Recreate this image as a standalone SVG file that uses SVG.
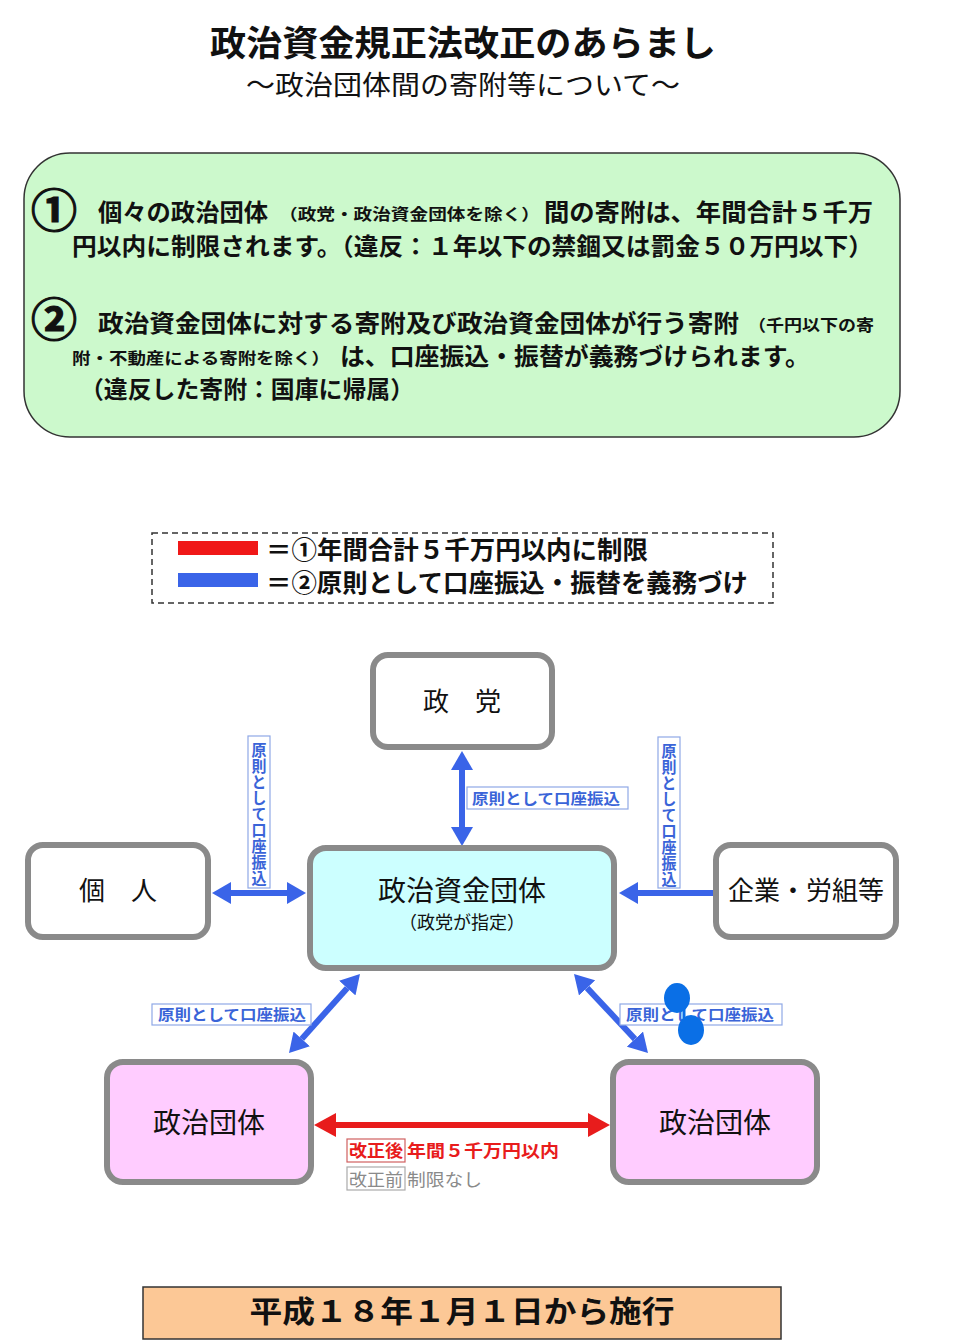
<svg xmlns="http://www.w3.org/2000/svg" width="959" height="1340" viewBox="0 0 959 1340">
<style>
text{font-family:"Noto Sans CJK JP","Noto Sans CJK SC",sans-serif;fill:#111}
.b{font-weight:bold}
.node{fill:#fff;stroke:#8a8a8a;stroke-width:6}
.nt{font-size:26px;text-anchor:middle}
.blue{stroke:#3a64e8;stroke-width:6;fill:none}
.red{stroke:#e81c1c;stroke-width:6;fill:none}
.lbl{fill:#fff;stroke:#8fa8e6;stroke-width:1.2}
.lt{font-size:15px;font-weight:bold;fill:#3a64d8}
</style>
<defs>
<marker id="ab" markerUnits="userSpaceOnUse" markerWidth="19" markerHeight="22" refX="0" refY="11" orient="auto-start-reverse" viewBox="0 0 19 22"><path d="M0,0 L19,11 L0,22 z" fill="#3a64e8"/></marker>
<marker id="ar" markerUnits="userSpaceOnUse" markerWidth="22" markerHeight="24" refX="0" refY="12" orient="auto-start-reverse" viewBox="0 0 22 24"><path d="M0,0 L22,12 L0,24 z" fill="#e81c1c"/></marker>
</defs>
<rect width="959" height="1340" fill="#fff"/>
<g id="title">
<text x="463" y="56" class="b" font-size="35" text-anchor="middle" textLength="506" lengthAdjust="spacingAndGlyphs">政治資金規正法改正のあらまし</text>
<text x="463" y="95" font-size="27" text-anchor="middle" textLength="434" lengthAdjust="spacingAndGlyphs">～政治団体間の寄附等について～</text>
</g>
<g id="summary">
<rect x="24" y="153" width="876" height="284" rx="46" fill="#ccf9cc" stroke="#333" stroke-width="1.5"/>
<text x="54" y="227" class="b" font-size="46" text-anchor="middle" stroke="#111" stroke-width="1.2">①</text>
<text x="98" y="221" class="b" font-size="24" textLength="170" lengthAdjust="spacingAndGlyphs">個々の政治団体</text>
<text x="279" y="220" class="b" font-size="16" textLength="261" lengthAdjust="spacingAndGlyphs">（政党・政治資金団体を除く）</text>
<text x="544" y="221" class="b" font-size="24" textLength="329" lengthAdjust="spacingAndGlyphs">間の寄附は、年間合計５千万</text>
<text x="72" y="255" class="b" font-size="24" textLength="801" lengthAdjust="spacingAndGlyphs">円以内に制限されます。（違反：１年以下の禁錮又は罰金５０万円以下）</text>
<text x="54" y="336" class="b" font-size="46" text-anchor="middle" stroke="#111" stroke-width="1.2">②</text>
<text x="98" y="332" class="b" font-size="24" textLength="641" lengthAdjust="spacingAndGlyphs">政治資金団体に対する寄附及び政治資金団体が行う寄附</text>
<text x="748" y="331" class="b" font-size="16" textLength="126" lengthAdjust="spacingAndGlyphs">（千円以下の寄</text>
<text x="72" y="364" class="b" font-size="16" textLength="258" lengthAdjust="spacingAndGlyphs">附・不動産による寄附を除く）</text>
<text x="340" y="365" class="b" font-size="24" textLength="470" lengthAdjust="spacingAndGlyphs">は、口座振込・振替が義務づけられます。</text>
<text x="80" y="398" class="b" font-size="24" textLength="334" lengthAdjust="spacingAndGlyphs">（違反した寄附：国庫に帰属）</text>
</g>
<g id="legend">
<rect x="152" y="533" width="621" height="70" fill="none" stroke="#333" stroke-width="1.5" stroke-dasharray="6,4"/>
<rect x="178" y="541" width="80" height="14" fill="#f01818"/>
<rect x="178" y="573" width="80" height="14" fill="#3a64e8"/>
<text x="266" y="559" class="b" font-size="25" textLength="382" lengthAdjust="spacingAndGlyphs">＝①年間合計５千万円以内に制限</text>
<text x="266" y="592" class="b" font-size="25" textLength="482" lengthAdjust="spacingAndGlyphs">＝②原則として口座振込・振替を義務づけ</text>
</g>
<g id="connectors">
<line class="blue" x1="462" y1="770" x2="462" y2="827" marker-start="url(#ab)" marker-end="url(#ab)"/>
<line class="blue" x1="231" y1="893" x2="287" y2="893" marker-start="url(#ab)" marker-end="url(#ab)"/>
<line class="blue" x1="714" y1="893" x2="638" y2="893" marker-end="url(#ab)"/>
<line class="blue" x1="347.3" y1="988.1" x2="301.7" y2="1038.9" marker-start="url(#ab)" marker-end="url(#ab)"/>
<line class="blue" x1="587" y1="987.9" x2="635" y2="1039.1" marker-start="url(#ab)" marker-end="url(#ab)"/>
<line class="red" x1="336" y1="1125" x2="588" y2="1125" marker-start="url(#ar)" marker-end="url(#ar)"/>
<rect class="lbl" x="467" y="787" width="161" height="22"/>
<text class="lt" x="472" y="804" textLength="148" lengthAdjust="spacingAndGlyphs">原則として口座振込</text>
<rect class="lbl" x="248" y="736" width="22" height="152"/>
<text class="lt" x="259" y="742" style="writing-mode:vertical-rl" textLength="144" lengthAdjust="spacingAndGlyphs">原則として口座振込</text>
<rect class="lbl" x="658" y="737" width="22" height="151"/>
<text class="lt" x="669" y="743" style="writing-mode:vertical-rl" textLength="144" lengthAdjust="spacingAndGlyphs">原則として口座振込</text>
<rect class="lbl" x="152" y="1004" width="159" height="21"/>
<text class="lt" x="158" y="1020" textLength="148" lengthAdjust="spacingAndGlyphs">原則として口座振込</text>
<rect class="lbl" x="620" y="1004" width="162" height="21"/>
<text class="lt" x="626" y="1020" textLength="148" lengthAdjust="spacingAndGlyphs">原則として口座振込</text>
<rect x="347" y="1139" width="58" height="23" fill="#fff" stroke="#d06060" stroke-width="1.2"/>
<text x="349" y="1157" class="b" font-size="17" style="fill:#e81c1c" textLength="54" lengthAdjust="spacingAndGlyphs">改正後</text>
<text x="407" y="1157" class="b" font-size="17" style="fill:#e81c1c" textLength="152" lengthAdjust="spacingAndGlyphs">年間５千万円以内</text>
<rect x="347" y="1167" width="58" height="23" fill="#fff" stroke="#aaa" stroke-width="1.2"/>
<text x="349" y="1186" font-size="17" style="fill:#8a8a8a" textLength="54" lengthAdjust="spacingAndGlyphs">改正前</text>
<text x="407" y="1186" font-size="17" style="fill:#8a8a8a" textLength="75" lengthAdjust="spacingAndGlyphs">制限なし</text>
</g>
<g id="n-seito">
<rect class="node" x="373" y="655" width="179" height="92" rx="15"/>
<text class="nt" x="462" y="711">政　党</text>
</g>
<g id="n-kojin">
<rect class="node" x="28" y="845" width="180" height="92" rx="15"/>
<text class="nt" x="118" y="900">個　人</text>
</g>
<g id="n-kigyo">
<rect class="node" x="716" y="845" width="180" height="92" rx="15"/>
<text class="nt" x="806" y="900">企業・労組等</text>
</g>
<g id="n-shikin">
<rect class="node" x="310" y="848" width="304" height="120" rx="16" style="fill:#ccffff"/>
<text x="462" y="901" font-size="28" text-anchor="middle">政治資金団体</text>
<text x="462" y="929" font-size="18" text-anchor="middle">（政党が指定）</text>
</g>
<g id="n-dantai-l">
<rect class="node" x="107" y="1062" width="204" height="120" rx="16" style="fill:#ffccff"/>
<text x="209" y="1133" font-size="28" text-anchor="middle">政治団体</text>
</g>
<g id="n-dantai-r">
<rect class="node" x="613" y="1062" width="204" height="120" rx="16" style="fill:#ffccff"/>
<text x="715" y="1133" font-size="28" text-anchor="middle">政治団体</text>
</g>
<g id="footer">
<rect x="143" y="1287" width="638" height="52" fill="#fcc896" stroke="#333" stroke-width="1.5"/>
<text x="462" y="1322" class="b" font-size="30" text-anchor="middle" textLength="425" lengthAdjust="spacingAndGlyphs">平成１８年１月１日から施行</text>
</g>
<g id="overlay">
<line x1="684" y1="1000" x2="684" y2="1028" stroke="#0a6fe6" stroke-width="3"/>
<ellipse cx="677" cy="998" rx="13" ry="15" fill="#0a6fe6"/>
<ellipse cx="691" cy="1030" rx="13" ry="15" fill="#0a6fe6"/>
</g>
</svg>
